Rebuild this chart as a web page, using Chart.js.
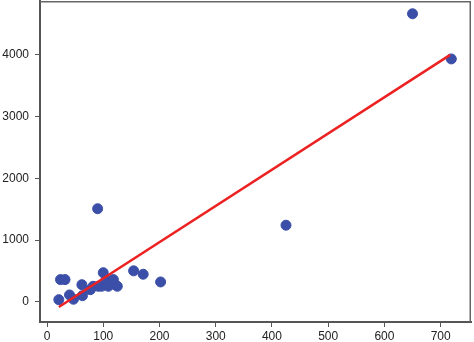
<!DOCTYPE html>
<html>
<head>
<meta charset="utf-8">
<script src="https://cdn.jsdelivr.net/npm/chart.js@4/dist/chart.umd.min.js"></script>
<style>
  html, body { margin: 0; padding: 0; background: #fff; }
  #wrap { width: 474px; height: 342px; }
</style>
</head>
<body>
<div id="wrap"><canvas id="scatterChart"></canvas></div>
<script>
const xs = [21, 24, 32, 40, 47, 62, 63, 77, 82, 90, 91, 97, 100, 105, 109, 118, 121, 125, 154, 171, 202, 425, 650, 719];
const ys = [33, 358, 358, 110, 40, 276, 98, 195, 250, 1507, 250, 250, 470, 358, 250, 358, 276, 250, 500, 445, 320, 1240, 4667, 3935];

// fitted line end points
const lineX = [21, 717];
const lineY = [-86, 4000];

const xTicks = [0, 100, 200, 300, 400, 500, 600, 700];
const yTicks = [0, 1000, 2000, 3000, 4000];

const ctx = document.getElementById('scatterChart');

// thin frame round the plot area (top + right sides)
const frame = {
    id: 'frame',
    beforeDatasetsDraw(chart) {
        const a = chart.chartArea;
        const c = chart.ctx;
        c.save();
        c.strokeStyle = '#666';
        c.lineWidth = 1.5;
        c.beginPath();
        c.moveTo(a.left, a.top + 0.75);
        c.lineTo(a.right - 0.75, a.top + 0.75);
        c.lineTo(a.right - 0.75, a.bottom);
        c.stroke();
        c.restore();
    }
};

// drop the label overflow padding chart.js adds
function noPad(s) {
    s.paddingTop = 0;
    s.paddingBottom = 0;
    s.paddingLeft = 0;
    s.paddingRight = 0;
}

new Chart(ctx, {
    data: {
        datasets: [{
            type: 'scatter',
            data: xs.map((x, i) => ({ x: x, y: ys[i] })),
            backgroundColor: '#3b4fa8',
            borderColor: '#3b4fa8',
            pointRadius: 5,
            pointHoverRadius: 5,
            order: 2
        }, {
            type: 'line',
            data: lineX.map((x, i) => ({ x: x, y: lineY[i] })),
            borderColor: '#ec2222',
            borderWidth: 2.5,
            pointRadius: 0,
            fill: false,
            order: 1
        }]
    },
    options: {
        responsive: true,
        maintainAspectRatio: false,
        animation: false,
        layout: {
            autoPadding: false,
            padding: { top: 1, right: 3, left: 0, bottom: 0 }
        },
        plugins: {
            legend: { display: false },
            tooltip: { enabled: false }
        },
        scales: {
            x: {
                type: 'linear',
                min: -12.5,
                max: 754,
                afterBuildTicks: s => { s.ticks = xTicks.map(v => ({ value: v })); },
                afterFit: s => { s.height = 20; noPad(s); },
                grid: { drawOnChartArea: false, drawTicks: true, tickLength: 5, color: '#555' },
                border: { display: true, color: '#555', width: 2 },
                ticks: {
                    padding: 2,
                    maxRotation: 0,
                    color: '#222',
                    callback: v => String(v),
                    font: { family: 'Liberation Sans, Arial, sans-serif', size: 12 }
                }
            },
            y: {
                type: 'linear',
                min: -329,
                max: 4874,
                afterBuildTicks: s => { s.ticks = yTicks.map(v => ({ value: v })); },
                afterFit: s => { s.width = 40; noPad(s); },
                grid: { drawOnChartArea: false, drawTicks: true, tickLength: 5, color: '#555' },
                border: { display: true, color: '#555', width: 2 },
                ticks: {
                    padding: 6,
                    color: '#222',
                    callback: v => String(v),
                    font: { family: 'Liberation Sans, Arial, sans-serif', size: 12 }
                }
            }
        }
    },
    plugins: [frame]
});
</script>
</body>
</html>
